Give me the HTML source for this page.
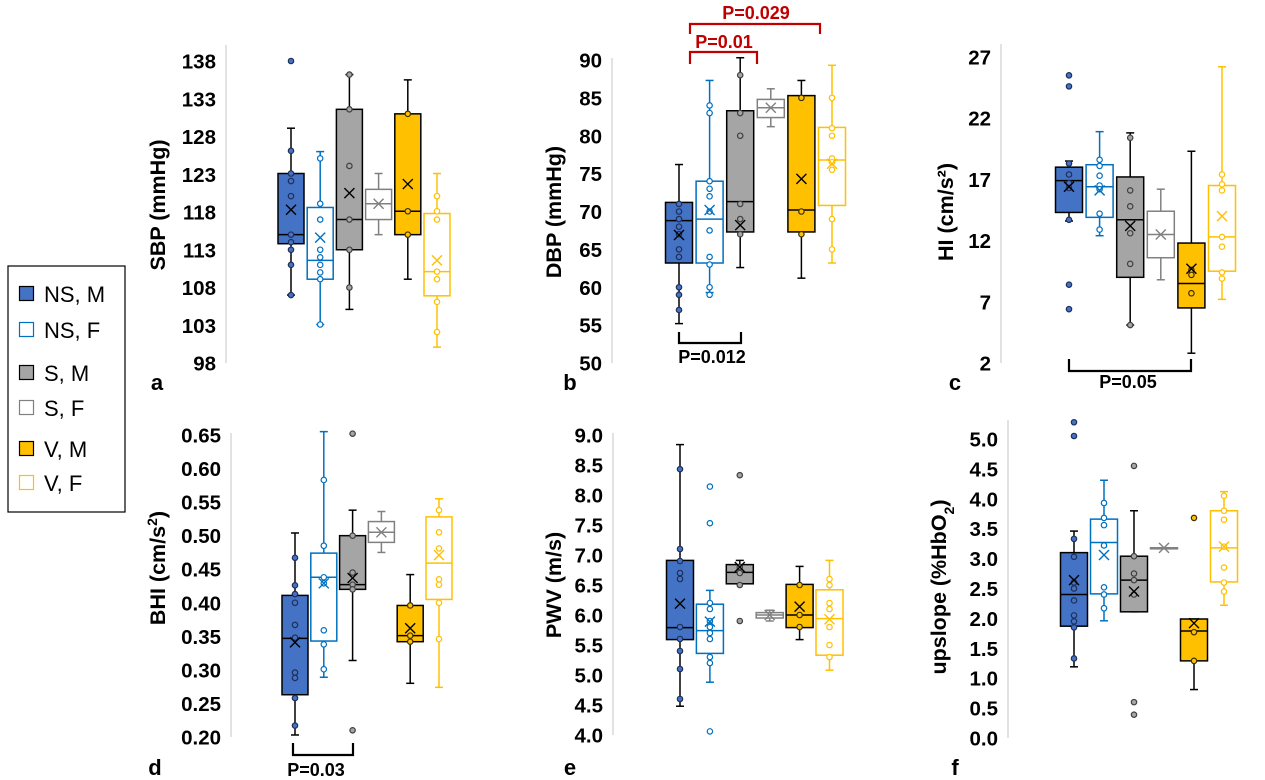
<!DOCTYPE html>
<html><head><meta charset="utf-8">
<style>
html,body{margin:0;padding:0;background:#fff;}
svg{display:block;font-family:"Liberation Sans",sans-serif;}
.tick{font-weight:bold;font-size:20.5px;fill:#000;}
.ttl{font-weight:bold;font-size:21.5px;fill:#000;}
.lett{font-weight:bold;font-size:22px;fill:#000;}
.leg{font-size:22px;fill:#000;}
</style></head>
<body>
<svg id="chart" width="1265" height="780" viewBox="0 0 1265 780">
<g id="legend">
<rect x="8" y="266" width="117" height="246" fill="#fff" stroke="#000" stroke-width="1.2"/>
</g>
</svg>
<script>
// groups: NS,M / NS,F / S,M / S,F / V,M / V,F
const groupNames = ["NS, M","NS, F","S, M","S, F","V, M","V, F"];
const groupFill = ["#4472C4","#fff","#A5A5A5","#fff","#FFC000","#fff"];
const groupStroke = ["#000","#0070C0","#000","#808080","#000","#FFC000"];
const markerFill = ["#4472C4","#fff","#A5A5A5","#fff","#FFC000","#fff"];
const markerStroke = ["#1f2f5a","#0070C0","#404040","#808080","#403000","#FFC000"];

// each box: [whiskerLow, q1, median, q3, whiskerHigh, mean]
const sbpBoxes = [[107,113.8,115,123.1,129.1,118.3],[103.1,109.1,111.6,118.6,126,114.6],[105.1,113,117,131.6,136.2,120.5],[115,117,119.1,121,123.1,119.1],[109.1,115,118.1,131,135.5,121.7],[100.1,106.9,110.1,117.8,123.1,111.6]];
const sbpPoints = [[138,126.1,123.1,122.1,120.1,115,114,113,111,107],[125.1,119.1,117,113,112,111,110,109.1,103.1],[136.2,131.6,124.1,117,113,108],[],[131,118.1,115],[120.1,118.1,117,110.1,109.1,106.1,102.1]];
const sbpTicks = [98,103,108,113,118,123,128,133,138];

const dbpBoxes = [[55.2,63.2,68.8,71.2,76.2,66.9],[59.3,63.2,69,74,87.3,70.2],[62.6,67.3,71.3,83.3,90.3,68.2],[81.2,82.4,83.7,84.8,86.2,83.7],[61.2,67.3,70.2,85.3,87.3,74.3],[63.2,70.8,76.8,81.1,89.3,76.3]];
const dbpPoints = [[71,70,69,68,67,65,64,60,59,57],[84,83,74,73,72,70,67.5,64,63,60,59],[88,83,80,71,69,67],[],[85,70,67],[85,81,80,77,76.5,75.5,69,65]];
const dbpTicks = [50,55,60,65,70,75,80,85,90];

const hiBoxes = [[13.6,14.3,16.9,18,18.5,16.4],[12.4,13.9,16.4,18.2,20.9,16.1],[5.1,9,13.7,17.2,20.8,13.2],[8.8,10.6,12.5,14.4,16.2,12.5],[2.8,6.5,8.5,11.8,19.3,9.7],[7.2,9.5,12.3,16.5,26.2,14]];
const hiPoints = [[25.5,24.6,18.3,17.4,16.7,16.3,13.7,8.4,6.4],[18.6,18.1,17.3,16.5,16.2,14.2,12.9],[20.4,16.1,14.8,12.6,10.1,5.1],[],[9.6,9.2,7.7],[17.4,16.6,16.1,12.3,11.5,9.4,8.9]];
const hiTicks = [2,7,12,17,22,27];

const bhiBoxes = [[0.203,0.263,0.347,0.411,0.504,0.341],[0.289,0.343,0.438,0.474,0.655,0.429],[0.314,0.42,0.427,0.5,0.538,0.437],[0.475,0.49,0.505,0.521,0.536,0.505],[0.28,0.342,0.351,0.396,0.442,0.362],[0.274,0.405,0.459,0.528,0.555,0.471]];
const bhiPoints = [[0.467,0.426,0.413,0.4,0.367,0.348,0.296,0.288,0.258,0.217],[0.583,0.485,0.438,0.429,0.359,0.338,0.301],[0.652,0.5,0.445,0.427,0.42,0.21],[],[0.396,0.351,0.342],[0.538,0.505,0.481,0.435,0.427,0.4,0.346]];
const bhiTicks = [0.20,0.25,0.30,0.35,0.40,0.45,0.50,0.55,0.60,0.65];

const pwvBoxes = [[4.48,5.59,5.79,6.91,8.84,6.19],[4.88,5.36,5.74,6.18,6.41,5.89],[6.52,6.52,6.71,6.84,6.91,6.8],[5.9,5.95,6.0,6.04,6.08,6.0],[5.59,5.79,6.0,6.51,6.81,6.14],[5.08,5.33,5.94,6.42,6.91,5.93]];
const pwvPoints = [[8.43,7.1,6.9,6.7,6.6,5.8,5.6,5.4,5.1,4.6],[8.14,7.53,6.2,6.1,5.9,5.8,5.7,5.6,5.3,5.2,4.06],[8.33,6.8,6.7,6.5,5.9],[],[6.5,6.0,5.8],[6.6,6.5,6.2,6.1,5.8,5.5,5.3]];
const pwvTicks = [4.0,4.5,5.0,5.5,6.0,6.5,7.0,7.5,8.0,8.5,9.0];

const upBoxes = [[1.19,1.87,2.4,3.1,3.46,2.64],[1.96,2.41,3.27,3.66,4.31,3.06],[2.11,2.11,2.64,3.04,3.8,2.45],[3.18,3.18,3.18,3.18,3.18,3.18],[0.81,1.29,1.79,1.99,1.99,1.92],[2.22,2.61,3.18,3.8,4.12,3.2]];
const upPoints = [[5.28,5.05,3.33,3.03,2.6,2.5,2.3,2.05,1.95,1.85,1.33],[3.93,3.68,3.56,3.22,2.52,2.4,2.17],[4.55,3.04,2.75,2.64,2.4,0.6,0.39],[],[3.68,1.77,1.29],[4.05,3.8,3.65,3.2,2.85,2.6,2.45]];
const upTicks = [0.0,0.5,1.0,1.5,2.0,2.5,3.0,3.5,4.0,4.5,5.0];

const NS="http://www.w3.org/2000/svg";
const svg=document.getElementById('chart');
function mk(tag,attrs,parent){const e=document.createElementNS(NS,tag);for(const k in attrs)e.setAttribute(k,attrs[k]);(parent||svg).appendChild(e);return e;}

const panels=[
 {key:"sbp",boxes:sbpBoxes,pts:sbpPoints,ticks:sbpTicks,dec:0,ax:226,yTop:61,yBot:363,lineTop:45,x0:291,dx:29.2,bw:26,title:"SBP (mmHg)",tx:158,ty:205,letter:"a",lx:157,ly:390},
 {key:"dbp",boxes:dbpBoxes,pts:dbpPoints,ticks:dbpTicks,dec:0,ax:612,yTop:60,yBot:363,lineTop:58,x0:679,dx:30.6,bw:27,title:"DBP (mmHg)",tx:554,ty:212,letter:"b",lx:570,ly:390},
 {key:"hi",boxes:hiBoxes,pts:hiPoints,ticks:hiTicks,dec:0,ax:1001,yTop:57,yBot:363,lineTop:44,x0:1069,dx:30.6,bw:27,title:"HI (cm/s²)",tx:946,ty:212,letter:"c",lx:955,ly:390},
 {key:"bhi",boxes:bhiBoxes,pts:bhiPoints,ticks:bhiTicks,dec:2,ax:231,yTop:435,yBot:737,lineTop:433,x0:295,dx:28.8,bw:26,title:"BHI (cm/s²)",tx:158,ty:568,letter:"d",lx:155,ly:775},
 {key:"pwv",boxes:pwvBoxes,pts:pwvPoints,ticks:pwvTicks,dec:1,ax:613,yTop:435,yBot:735,lineTop:433,x0:680,dx:29.9,bw:27,title:"PWV (m/s)",tx:554,ty:585,letter:"e",lx:570,ly:775},
 {key:"up",boxes:upBoxes,pts:upPoints,ticks:upTicks,dec:1,ax:1008,yTop:439,yBot:738,lineTop:420,x0:1074,dx:30,bw:27,title:"upslope (%HbO2)",tx:939,ty:587,letter:"f",lx:955,ly:775}
];

panels.forEach(p=>{
  const g=mk('g',{});
  
  
  const tmin=p.ticks[0],tmax=p.ticks[p.ticks.length-1];
  const y=v=>p.yBot-(v-tmin)/(tmax-tmin)*(p.yBot-p.yTop);
  const al=mk('line',{x1:p.ax,x2:p.ax,y1:p.lineTop,y2:p.yBot,stroke:"#d9d9d9","stroke-width":1.5},g);
  
  
  p.ticks.forEach(t=>{
    const tl=mk('text',{x:p.ax-10,y:y(t)+7.5,"text-anchor":"end",class:"tick"},g);
    tl.textContent=t.toFixed(p.dec);
    
    
  });
  const tt=mk('text',{x:p.tx,y:p.ty,"text-anchor":"middle",class:"ttl",transform:`rotate(-90 ${p.tx} ${p.ty})`,dy:"7"},g);
  if(p.key==="bhi"){tt.innerHTML='BHI (cm/s<tspan baseline-shift="super" font-size="14">2</tspan>)';}
  else if(p.key==="up"){tt.innerHTML='upslope (%HbO<tspan baseline-shift="sub" font-size="14">2</tspan>)';}
  else tt.textContent=p.title;
  
  
  const le=mk('text',{x:p.lx,y:p.ly,"text-anchor":"middle",class:"lett"},g);
  le.textContent=p.letter;
  
  
  p.boxes.forEach((b,i)=>{
    const cx=p.x0+i*p.dx, hw=p.bw/2, st=groupStroke[i];
    const bg=mk('g',{},g);
    
    
    const sw=1.5;
    mk('line',{x1:cx,x2:cx,y1:y(b[4]),y2:y(b[3]),stroke:st,"stroke-width":sw},bg);
    mk('line',{x1:cx,x2:cx,y1:y(b[1]),y2:y(b[0]),stroke:st,"stroke-width":sw},bg);
    mk('line',{x1:cx-4,x2:cx+4,y1:y(b[4]),y2:y(b[4]),stroke:st,"stroke-width":sw},bg);
    mk('line',{x1:cx-4,x2:cx+4,y1:y(b[0]),y2:y(b[0]),stroke:st,"stroke-width":sw},bg);
    mk('rect',{x:cx-hw,y:y(b[3]),width:p.bw,height:Math.max(1,y(b[1])-y(b[3])),fill:groupFill[i],stroke:st,"stroke-width":sw},bg);
    mk('line',{x1:cx-hw,x2:cx+hw,y1:y(b[2]),y2:y(b[2]),stroke:st,"stroke-width":sw},bg);
    p.pts[i].forEach(v=>{
      const c=mk('circle',{cx:cx,cy:y(v),r:2.7,fill:markerFill[i],stroke:markerStroke[i],"stroke-width":1.2},bg);
      
      
    });
    const my=y(b[5]),s=5, mc=(i===3)?"#808080":(i===1?"#0070C0":(i===5?"#FFC000":"#000"));
    const mp=mk('path',{d:`M${cx-s} ${my-s}L${cx+s} ${my+s}M${cx-s} ${my+s}L${cx+s} ${my-s}`,stroke:mc,"stroke-width":1.4,fill:"none"},bg);
    
    
  });
});

// significance brackets
const brackets=[
 {x1:679,x2:741,y1:332,y2:343,label:"P=0.012",lx:712,ly:363,col:"#000"},
 {x1:690,x2:757,y1:64,y2:52,label:"P=0.01",lx:724,ly:48,col:"#C00000"},
 {x1:690,x2:820,y1:34,y2:24,label:"P=0.029",lx:756,ly:19,col:"#C00000"},
 {x1:1069,x2:1191,y1:359,y2:371,label:"P=0.05",lx:1128,ly:388,col:"#000"},
 {x1:293,x2:353,y1:743,y2:755,label:"P=0.03",lx:316,ly:776,col:"#000"}
];
brackets.forEach(b=>{
  const bg=mk('g',{});
  
  
  mk('path',{d:`M${b.x1} ${b.y1}L${b.x1} ${b.y2}L${b.x2} ${b.y2}L${b.x2} ${b.y1}`,stroke:b.col,"stroke-width":2.2,fill:"none"},bg);
  const t=mk('text',{x:b.lx,y:b.ly,"text-anchor":"middle","font-weight":"bold","font-size":18,fill:b.col},bg);
  t.textContent=b.label;
});

// legend
const legY=[294,330,373,408,449,483];
const lg=document.getElementById('legend');
groupNames.forEach((n,i)=>{
  const eg=mk('g',{},lg);
  
  
  mk('rect',{x:19.5,y:legY[i]-7.5,width:14,height:14,fill:groupFill[i],stroke:groupFill[i]==="#fff"?groupStroke[i]:"#000","stroke-width":1.2},eg);
  const t=mk('text',{x:44,y:legY[i]+8,class:"leg"},eg);
  t.textContent=n;
});
</script>
</body></html>
